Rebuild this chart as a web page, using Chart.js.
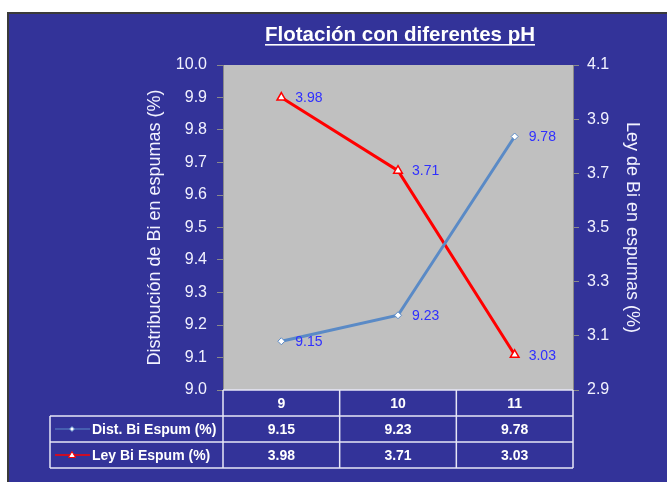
<!DOCTYPE html>
<html>
<head>
<meta charset="utf-8">
<script src="https://cdn.jsdelivr.net/npm/chart.js@4"></script>
<style>
  html, body { margin: 0; padding: 0; background: #ffffff; }
  canvas { display: block; }
</style>
</head>
<body>
<canvas id="chart" width="667" height="482"></canvas>
<script>
// pH values (categories) and the two measured series
const phValues = ['9', '10', '11'];
const distBi = [9.15, 9.23, 9.78];   // Distribución de Bi en espumas (%)
const leyBi = [3.98, 3.71, 3.03];    // Ley de Bi en espumas (%)

// Axis tick values
const distTicks = [9.0, 9.1, 9.2, 9.3, 9.4, 9.5, 9.6, 9.7, 9.8, 9.9, 10.0];
const leyTicks = [2.9, 3.1, 3.3, 3.5, 3.7, 3.9, 4.1];

// Texts
const seriesNames = ['Dist. Bi Espum (%)', 'Ley Bi Espum (%)'];
const titleText = 'Flotación con diferentes pH';
const distAxisTitle = 'Distribución de Bi en espumas (%)';
const leyAxisTitle = 'Ley de Bi en espumas (%)';

const FONT = "'Liberation Sans', Arial, sans-serif";
const BG_BLUE = '#333399';
const PLOT_GRAY = '#c0c0c0';
const TEXT_LIGHT = '#f2f2ff';
const LINE_LIGHT = '#e6e6f6';
const BLUE_LINE = '#5a8ac6';
const RED_LINE = '#ff0000';
const LABEL_BLUE = '#2f2fff';

Chart.defaults.font.family = FONT;

// Frame, dark blue background and gray plot area
const backgroundPlugin = {
  id: 'frameBackground',
  beforeDraw(chart) {
    const { ctx, chartArea } = chart;
    ctx.save();
    ctx.fillStyle = '#ffffff';
    ctx.fillRect(0, 0, chart.width, chart.height);
    ctx.fillStyle = BG_BLUE;
    ctx.fillRect(7, 12, chart.width - 7, chart.height - 12);
    ctx.strokeStyle = '#3a3a3a';
    ctx.lineWidth = 2;
    ctx.beginPath();
    ctx.moveTo(8, chart.height + 2);
    ctx.lineTo(8, 13);
    ctx.lineTo(chart.width + 2, 13);
    ctx.stroke();
    ctx.fillStyle = PLOT_GRAY;
    ctx.fillRect(chartArea.left, chartArea.top,
                 chartArea.right - chartArea.left, chartArea.bottom - chartArea.top);
    ctx.restore();
  }
};

// Title, axis titles, point labels and the data table
const annotationPlugin = {
  id: 'annotations',
  afterDraw(chart) {
    const { ctx, chartArea, scales } = chart;
    ctx.save();

    // Underlined title
    ctx.font = `bold 20.5px ${FONT}`;
    ctx.fillStyle = '#ffffff';
    ctx.textAlign = 'center';
    ctx.textBaseline = 'alphabetic';
    const tx = 400, ty = 41;
    ctx.fillText(titleText, tx, ty);
    const tw = ctx.measureText(titleText).width;
    ctx.fillRect(tx - tw / 2, ty + 3, tw, 1.6);

    // Axis titles
    const midY = (chartArea.top + chartArea.bottom) / 2;
    ctx.font = `18px ${FONT}`;
    ctx.fillStyle = TEXT_LIGHT;
    ctx.textBaseline = 'middle';
    ctx.save();
    ctx.translate(155, midY);
    ctx.rotate(-Math.PI / 2);
    ctx.fillText(distAxisTitle, 0, 0);
    ctx.restore();
    ctx.save();
    ctx.translate(632, midY);
    ctx.rotate(Math.PI / 2);
    ctx.fillText(leyAxisTitle, 0, 0);
    ctx.restore();

    // Value labels beside each point
    ctx.font = `14px ${FONT}`;
    ctx.fillStyle = LABEL_BLUE;
    ctx.textAlign = 'left';
    ctx.textBaseline = 'middle';
    chart.data.datasets.forEach((ds, di) => {
      const meta = chart.getDatasetMeta(di);
      meta.data.forEach((pt, i) => {
        ctx.fillText(ds.data[i].toFixed(2), pt.x + 14, pt.y + 1);
      });
    });

    // Data table under the plot
    const x = scales.x;
    const n = phValues.length;
    const centers = phValues.map((_, i) => x.getPixelForValue(i));
    const bounds = [chartArea.left];
    for (let i = 0; i < n - 1; i++) bounds.push((centers[i] + centers[i + 1]) / 2);
    bounds.push(chartArea.right);
    const rowH = 26;
    const top = chartArea.bottom;
    const legendLeft = 50;
    const rows = [top, top + rowH, top + 2 * rowH, top + 3 * rowH];

    ctx.strokeStyle = LINE_LIGHT;
    ctx.lineWidth = 1.5;
    ctx.beginPath();
    // header row lines
    ctx.moveTo(chartArea.left, rows[0]); ctx.lineTo(chartArea.right, rows[0]);
    // body row lines
    for (let r = 1; r <= 3; r++) {
      ctx.moveTo(legendLeft, rows[r]); ctx.lineTo(chartArea.right, rows[r]);
    }
    // column lines
    bounds.forEach(b => { ctx.moveTo(b, rows[0]); ctx.lineTo(b, rows[3]); });
    ctx.moveTo(legendLeft, rows[1]); ctx.lineTo(legendLeft, rows[3]);
    ctx.stroke();

    const tableSeries = [distBi, leyBi];
    ctx.font = `bold 14px ${FONT}`;
    ctx.fillStyle = '#ffffff';
    ctx.textAlign = 'center';
    tableSeries.forEach((vals, r) => {
      const cy = (rows[r + 1] + rows[r + 2]) / 2 + 1;
      vals.forEach((v, i) => ctx.fillText(v.toFixed(2), centers[i], cy));
    });

    // legend keys inside the table
    chart.data.datasets.forEach((ds, r) => {
      const cy = (rows[r + 1] + rows[r + 2]) / 2;
      ctx.strokeStyle = ds.borderColor;
      ctx.lineWidth = r === 0 ? 1 : 1.5;
      ctx.beginPath();
      ctx.moveTo(55, cy); ctx.lineTo(90, cy);
      ctx.stroke();
      ctx.fillStyle = '#ffffff';
      ctx.strokeStyle = ds.borderColor;
      ctx.lineWidth = 1;
      ctx.beginPath();
      if (r === 0) {
        ctx.moveTo(72, cy - 2.5); ctx.lineTo(74.5, cy); ctx.lineTo(72, cy + 2.5); ctx.lineTo(69.5, cy);
      } else {
        ctx.moveTo(72, cy - 3.5); ctx.lineTo(75.5, cy + 2.5); ctx.lineTo(68.5, cy + 2.5);
      }
      ctx.closePath();
      ctx.fill();
      ctx.stroke();
      ctx.fillStyle = '#ffffff';
      ctx.font = `bold 14px ${FONT}`;
      ctx.textAlign = 'left';
      ctx.fillText(ds.label, 92, cy + 1);
    });

    ctx.restore();
  }
};

new Chart(document.getElementById('chart'), {
  type: 'line',
  data: {
    labels: phValues,
    datasets: [
      {
        label: seriesNames[0],
        data: distBi,
        yAxisID: 'yDist',
        borderColor: BLUE_LINE,
        borderWidth: 3,
        pointStyle: 'rectRot',
        pointRadius: 3.5,
        pointBorderWidth: 1,
        pointBackgroundColor: '#ffffff',
        pointBorderColor: BLUE_LINE,
        tension: 0
      },
      {
        label: seriesNames[1],
        data: leyBi,
        yAxisID: 'yLey',
        borderColor: RED_LINE,
        borderWidth: 3,
        pointStyle: 'triangle',
        pointRadius: 5,
        pointBorderWidth: 1.5,
        pointBackgroundColor: '#ffffff',
        pointBorderColor: RED_LINE,
        tension: 0
      }
    ]
  },
  options: {
    responsive: false,
    animation: false,
    layout: { padding: { top: 65, left: 0, right: 0, bottom: 0 } },
    plugins: {
      legend: { display: false },
      title: { display: false },
      tooltip: { enabled: false }
    },
    scales: {
      x: {
        type: 'category',
        offset: true,
        grid: { display: false, drawTicks: false },
        border: { display: false },
        ticks: { color: '#ffffff', font: { size: 14, weight: 'bold' }, padding: 6, maxRotation: 0 },
        afterFit(scale) { scale.height = 92; }
      },
      yDist: {
        type: 'linear',
        position: 'left',
        min: 9.0,
        max: 10.0,
        afterBuildTicks(scale) { scale.ticks = distTicks.map(v => ({ value: v })); },
        ticks: {
          color: TEXT_LIGHT,
          font: { size: 16 },
          padding: 10,
          callback: v => Number(v).toFixed(1)
        },
        grid: { drawOnChartArea: false, drawTicks: true, tickLength: 6, color: '#8a8a8a' },
        border: { display: true, color: '#8a8a8a', width: 1 },
        afterFit(scale) { scale.width = 223; }
      },
      yLey: {
        type: 'linear',
        position: 'right',
        min: 2.9,
        max: 4.1,
        afterBuildTicks(scale) { scale.ticks = leyTicks.map(v => ({ value: v })); },
        ticks: {
          color: TEXT_LIGHT,
          font: { size: 16 },
          padding: 8,
          callback: v => Number(v).toFixed(1)
        },
        grid: { drawOnChartArea: false, drawTicks: true, tickLength: 6, color: '#8a8a8a' },
        border: { display: true, color: '#8a8a8a', width: 1 },
        afterFit(scale) { scale.width = 94; }
      }
    }
  },
  plugins: [backgroundPlugin, annotationPlugin]
});
</script>
</body>
</html>
